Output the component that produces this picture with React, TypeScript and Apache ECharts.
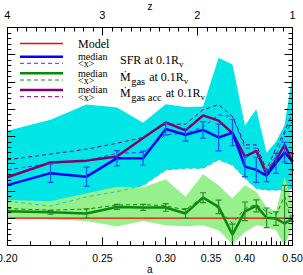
import React, { useEffect, useRef } from "react";
import * as echarts from "echarts";

// scale factor a (x data) ; redshift z = 1/a - 1 is the linear plotting coordinate
const aValues = [0.2, 0.22, 0.24, 0.26, 0.28, 0.3, 0.32, 0.34, 0.36, 0.38, 0.4, 0.42, 0.44, 0.46, 0.48, 0.5];

// SFR at 0.1 Rv (blue)
const sfrMedian = [2.21, 2.65, 2.52, 3.2, 3.2, 4.27, 4.06, 4.24, 3.96, 4.14, 2.89, 2.77, 2.56, 3.01, 3.42, 3.07];
const sfrMedianErr = [0, 0.34, 0.35, 0.28, 0.26, 0.22, 0.23, 0.3, 0.49, 0.48, 0.37, 0.46, 0.22, 0.37, 0.36, 0.3];
const sfrMean = [2.77, 3.01, 3.11, 3.38, 3.41, 4.06, 4.12, 4.35, 4.79, 4.73, 3.57, 3.57, 2.7, 3.3, 4.1, 4.55];
const sfrBandLow = [1.62, 1.44, 1.78, 1.97, 2.2, 2.77, 2.83, 2.83, 3.14, 2.95, 2.46, 2.09, 2.03, 2.03, 2.03, 2.09];
const sfrBandHigh = [4.21, 4.61, 5.17, 5.06, 4.5, 5.18, 5.08, 5.1, 6.89, 6.64, 4.4, 5.0, 3.4, 3.8, 4.42, 6.27];

// Mdot gas at 0.1 Rv (green)
const gasMedian = [1.25, 1.21, 1.17, 1.41, 1.39, 1.39, 1.17, 1.75, 1.41, 0.39, 1.25, 1.45, 1.01, 0.98, 0.8, 0.98];
const gasMedianErr = [0, 0.07, 0.17, 0.09, 0.11, 0.14, 0.18, 0.18, 0.25, 0.39, 0.34, 0.22, 0.36, 0.25, 1.4, 0.1];
const gasMean = [1.35, 1.29, 1.33, 1.48, 1.5, 1.45, 1.3, 1.78, 1.35, 0.8, 1.35, 1.5, 1.23, 1.11, 1.8, 0.74];
const gasBandLow = [1.0, 0.96, 0.89, 0.7, 0.89, 0.74, 0.7, 0.74, 0.55, 0.04, 0.49, 0.74, 0.68, 0.55, 0.0, 0.68];
const gasBandHigh = [1.66, 1.62, 1.91, 2.15, 2.13, 2.42, 1.78, 2.61, 2.21, 1.72, 2.21, 1.97, 1.4, 1.25, 2.5, 1.6];

// Mdot gas acc at 0.1 Rv (purple)
const accMedian = [2.5, 3.04, 3.11, 3.26, 3.94, 4.51, 4.22, 4.77, 4.58, 4.12, 3.26, 3.47, 2.61, 3.14, 3.69, 3.07];
const accMean = [3.14, 3.35, 3.53, 3.75, 3.96, 4.45, 4.45, 4.98, 5.17, 4.73, 3.69, 3.69, 2.77, 3.57, 4.18, 4.86];

// Model
const modelLevel = 1;
const modelRange = [0.2, 0.5];

// axis ticks
const aLabelTicks = [0.2, 0.25, 0.3, 0.35, 0.4, 0.5];
const aMajorTicks = [0.2, 0.25, 0.3, 0.35, 0.4, 0.45, 0.5];
const aMinorTicks = [
  0.21, 0.22, 0.23, 0.24, 0.26, 0.27, 0.28, 0.29, 0.31, 0.32, 0.33, 0.34, 0.36, 0.37, 0.38, 0.39,
  0.41, 0.42, 0.43, 0.44, 0.46, 0.47, 0.48, 0.49,
];

const toZ = (a: number) => 1 / a - 1;

const BLUE = "#0000ff";
const BLUE_D = "#3a3aff";
const BLUE_ERR = "#1a50ff";
const GREEN = "#0a8a0a";
const GREEN_ERR = "#2a8a2a";
const PURPLE = "#800070";
const RED = "#ff0000";
const CYAN = "#00e6e6";
const LGREEN = "#96f08c";
const SERIF = '"Liberation Serif", "DejaVu Serif", serif';
const SANS = '"Liberation Sans", "DejaVu Sans", sans-serif';

function bandSeries(lo: number[], hi: number[], color: string, z: number) {
  return {
    type: "custom",
    coordinateSystem: "cartesian2d",
    xAxisIndex: 0,
    yAxisIndex: 0,
    z,
    silent: true,
    clip: true,
    data: [[2.5, 1]],
    renderItem: (_p: any, api: any) => {
      const upper = aValues.map((a, i) => api.coord([toZ(a), hi[i]]));
      const lower = aValues.map((a, i) => api.coord([toZ(a), lo[i]])).reverse();
      return { type: "polygon", shape: { points: upper.concat(lower) }, style: { fill: color } };
    },
  };
}

function errSeries(vals: number[], errs: number[], color: string, z: number) {
  return {
    type: "custom",
    coordinateSystem: "cartesian2d",
    xAxisIndex: 0,
    yAxisIndex: 0,
    z,
    silent: true,
    clip: true,
    encode: { x: 0, y: 1 },
    data: aValues.map((a, i) => [toZ(a), vals[i], errs[i]]).filter((d) => d[2] > 0),
    renderItem: (_p: any, api: any) => {
      const x = api.value(0);
      const y = api.value(1);
      const e = api.value(2);
      const t = api.coord([x, y + e]);
      const b = api.coord([x, y - e]);
      const cap = 3;
      const st = { stroke: color, lineWidth: 1.2 };
      return {
        type: "group",
        children: [
          { type: "line", shape: { x1: t[0], y1: t[1], x2: b[0], y2: b[1] }, style: st },
          { type: "line", shape: { x1: t[0] - cap, y1: t[1], x2: t[0] + cap, y2: t[1] }, style: st },
          { type: "line", shape: { x1: b[0] - cap, y1: b[1], x2: b[0] + cap, y2: b[1] }, style: st },
        ],
      };
    },
  };
}

function lineSeries(vals: number[], color: string, width: number, dashed: boolean, z: number) {
  return {
    type: "line",
    xAxisIndex: 0,
    yAxisIndex: 0,
    z,
    silent: true,
    symbol: "none",
    clip: true,
    data: aValues.map((a, i) => [toZ(a), vals[i]]),
    lineStyle: { color, width, type: dashed ? [4, 3] : "solid" },
    itemStyle: { color },
  };
}

export default function App() {
  const ref = useRef<HTMLDivElement>(null);
  useEffect(() => {
    if (!ref.current) return;
    const chart = echarts.init(ref.current, undefined, { renderer: "svg" });
    const ctx = document.createElement("canvas").getContext("2d")!;
    const tw = (t: string, size: number) => {
      ctx.font = `${size}px ${SERIF}`;
      return ctx.measureText(t).width;
    };
    const txt = (text: string, x: number, y: number, size: number, lineHeight?: number) => ({
      type: "text",
      x,
      y,
      silent: true,
      z: 20,
      style: {
        text,
        x: 0,
        y: 0,
        fill: "#000",
        fontSize: size,
        fontFamily: SERIF,
        verticalAlign: "middle",
        align: "left",
        lineHeight: lineHeight || size,
      },
    });
    const lg = (y: number, color: string, width: number, dashed: boolean) => ({
      type: "line",
      silent: true,
      z: 20,
      shape: { x1: 20, y1: y, x2: 63, y2: y },
      style: dashed
        ? { stroke: color, lineWidth: width, lineDash: [4, 3] }
        : { stroke: color, lineWidth: width },
    });

    const big = 12;
    const sub = 10.5;
    const vsub = 9;
    const lx = 120;
    // line 1
    const l1 = "SFR at 0.1R";
    const l1w = tw(l1, big);
    // line 2
    const mw = tw("Ṁ", big);
    const g2 = "gas";
    const g2w = tw(g2, sub);
    const r2 = " at 0.1R";
    const r2x = lx + mw + 0.5 + g2w + 1;
    const r2w = tw(r2, big);
    // line 3
    const g3 = "gas acc";
    const g3w = tw(g3, sub);
    const r3x = lx + mw + 0.5 + g3w + 1;

    const legend = [
      lg(43.5, RED, 1.5, false),
      lg(56.7, BLUE, 2.5, false),
      lg(63.3, BLUE_D, 1, true),
      lg(73.3, GREEN, 2.5, false),
      lg(80, GREEN, 1, true),
      lg(90, PURPLE, 2.5, false),
      lg(96.7, PURPLE, 1, true),
      txt("Model", 78, 43.5, big),
      txt("median\n<x>", 78, 60, 10, 7.3),
      txt("median\n<x>", 78, 76.7, 10, 7.3),
      txt("median\n<x>", 78, 93.4, 10, 7.3),
      txt(l1, lx, 59.5, big),
      txt("v", lx + l1w, 63.5, vsub),
      txt("Ṁ", lx, 76.5, big),
      txt(g2, lx + mw + 0.5, 81, sub),
      txt(r2, r2x, 76.5, big),
      txt("v", r2x + r2w, 80.5, vsub),
      txt("Ṁ", lx, 92.5, big),
      txt(g3, lx + mw + 0.5, 97, sub),
      txt(r2, r3x, 92.5, big),
      txt("v", r3x + r2w, 96.5, vsub),
    ];

    const axisLine = { show: true, onZero: false, lineStyle: { color: "#000", width: 1 } };
    const tickStyle = { color: "#000", width: 1 };

    chart.setOption({
      animation: false,
      backgroundColor: "#fff",
      grid: { left: 7.3, right: 10.5, top: 27.5, bottom: 29.7, containLabel: false, outerBoundsMode: "none" },
      xAxis: [
        {
          type: "value",
          position: "bottom",
          min: 1,
          max: 4,
          inverse: true,
          z: 10,
          axisLine,
          axisTick: { show: true, inside: true, length: 4, customValues: aMinorTicks.map(toZ), lineStyle: tickStyle },
          axisLabel: {
            show: true,
            customValues: aLabelTicks.map(toZ),
            formatter: (v: number) => (1 / (1 + v)).toFixed(2),
            margin: 7,
            color: "#000",
            fontSize: 10.5,
            fontFamily: SANS,
          },
          splitLine: { show: false },
          name: "a",
          nameLocation: "middle",
          nameGap: 19,
          nameMoveOverlap: false,
          nameTextStyle: { color: "#000", fontSize: 10, fontFamily: SANS },
        },
        {
          type: "value",
          position: "bottom",
          min: 1,
          max: 4,
          inverse: true,
          z: 10,
          axisLine: { show: false },
          axisTick: { show: true, inside: true, length: 8, customValues: aMajorTicks.map(toZ), lineStyle: tickStyle },
          axisLabel: { show: false },
          splitLine: { show: false },
        },
        {
          type: "value",
          position: "top",
          min: 1,
          max: 4,
          interval: 1,
          inverse: true,
          z: 10,
          axisLine,
          axisTick: { show: true, inside: true, length: 8, lineStyle: tickStyle },
          minorTick: { show: true, splitNumber: 10, length: 4, lineStyle: tickStyle },
          axisLabel: { show: true, margin: 7, color: "#000", fontSize: 11, fontFamily: SANS },
          splitLine: { show: false },
          minorSplitLine: { show: false },
          name: "z",
          nameLocation: "middle",
          nameGap: 16,
          nameMoveOverlap: false,
          nameTextStyle: { color: "#000", fontSize: 10, fontFamily: SANS },
        },
      ],
      yAxis: [
        {
          type: "value",
          position: "left",
          min: 0,
          max: 8,
          interval: 1,
          z: 10,
          axisLine,
          axisTick: { show: true, inside: true, length: 8, lineStyle: tickStyle },
          minorTick: { show: true, splitNumber: 5, length: 4, lineStyle: tickStyle },
          axisLabel: { show: false },
          splitLine: { show: false },
          minorSplitLine: { show: false },
        },
        {
          type: "value",
          position: "right",
          min: 0,
          max: 8,
          interval: 1,
          z: 10,
          axisLine,
          axisTick: { show: true, inside: true, length: 8, lineStyle: tickStyle },
          minorTick: { show: true, splitNumber: 5, length: 4, lineStyle: tickStyle },
          axisLabel: { show: false },
          splitLine: { show: false },
          minorSplitLine: { show: false },
        },
      ],
      series: [
        bandSeries(sfrBandLow, sfrBandHigh, CYAN, 1),
        bandSeries(gasBandLow, gasBandHigh, LGREEN, 2),
        lineSeries(sfrBandLow, "#10c8dc", 1, true, 3),
        {
          type: "line",
          xAxisIndex: 0,
          yAxisIndex: 0,
          z: 3,
          silent: true,
          symbol: "none",
          data: modelRange.map((a) => [toZ(a), modelLevel]),
          lineStyle: { color: RED, width: 1.2 },
          itemStyle: { color: RED },
        },
        lineSeries(gasMean, GREEN, 1, true, 4),
        lineSeries(gasMedian, GREEN, 2.5, false, 4),
        errSeries(gasMedian, gasMedianErr, GREEN_ERR, 5),
        lineSeries(accMean, PURPLE, 1, true, 4),
        lineSeries(sfrMean, BLUE_D, 1, true, 4),
        lineSeries(accMedian, PURPLE, 2.5, false, 4),
        lineSeries(sfrMedian, BLUE, 2.5, false, 4),
        errSeries(sfrMedian, sfrMedianErr, BLUE_ERR, 5),
      ],
      graphic: legend,
    });
    return () => chart.dispose();
  }, []);
  return <div ref={ref} style={{ position: "fixed", left: 0, top: 0, width: 303, height: 275 }} />;
}
